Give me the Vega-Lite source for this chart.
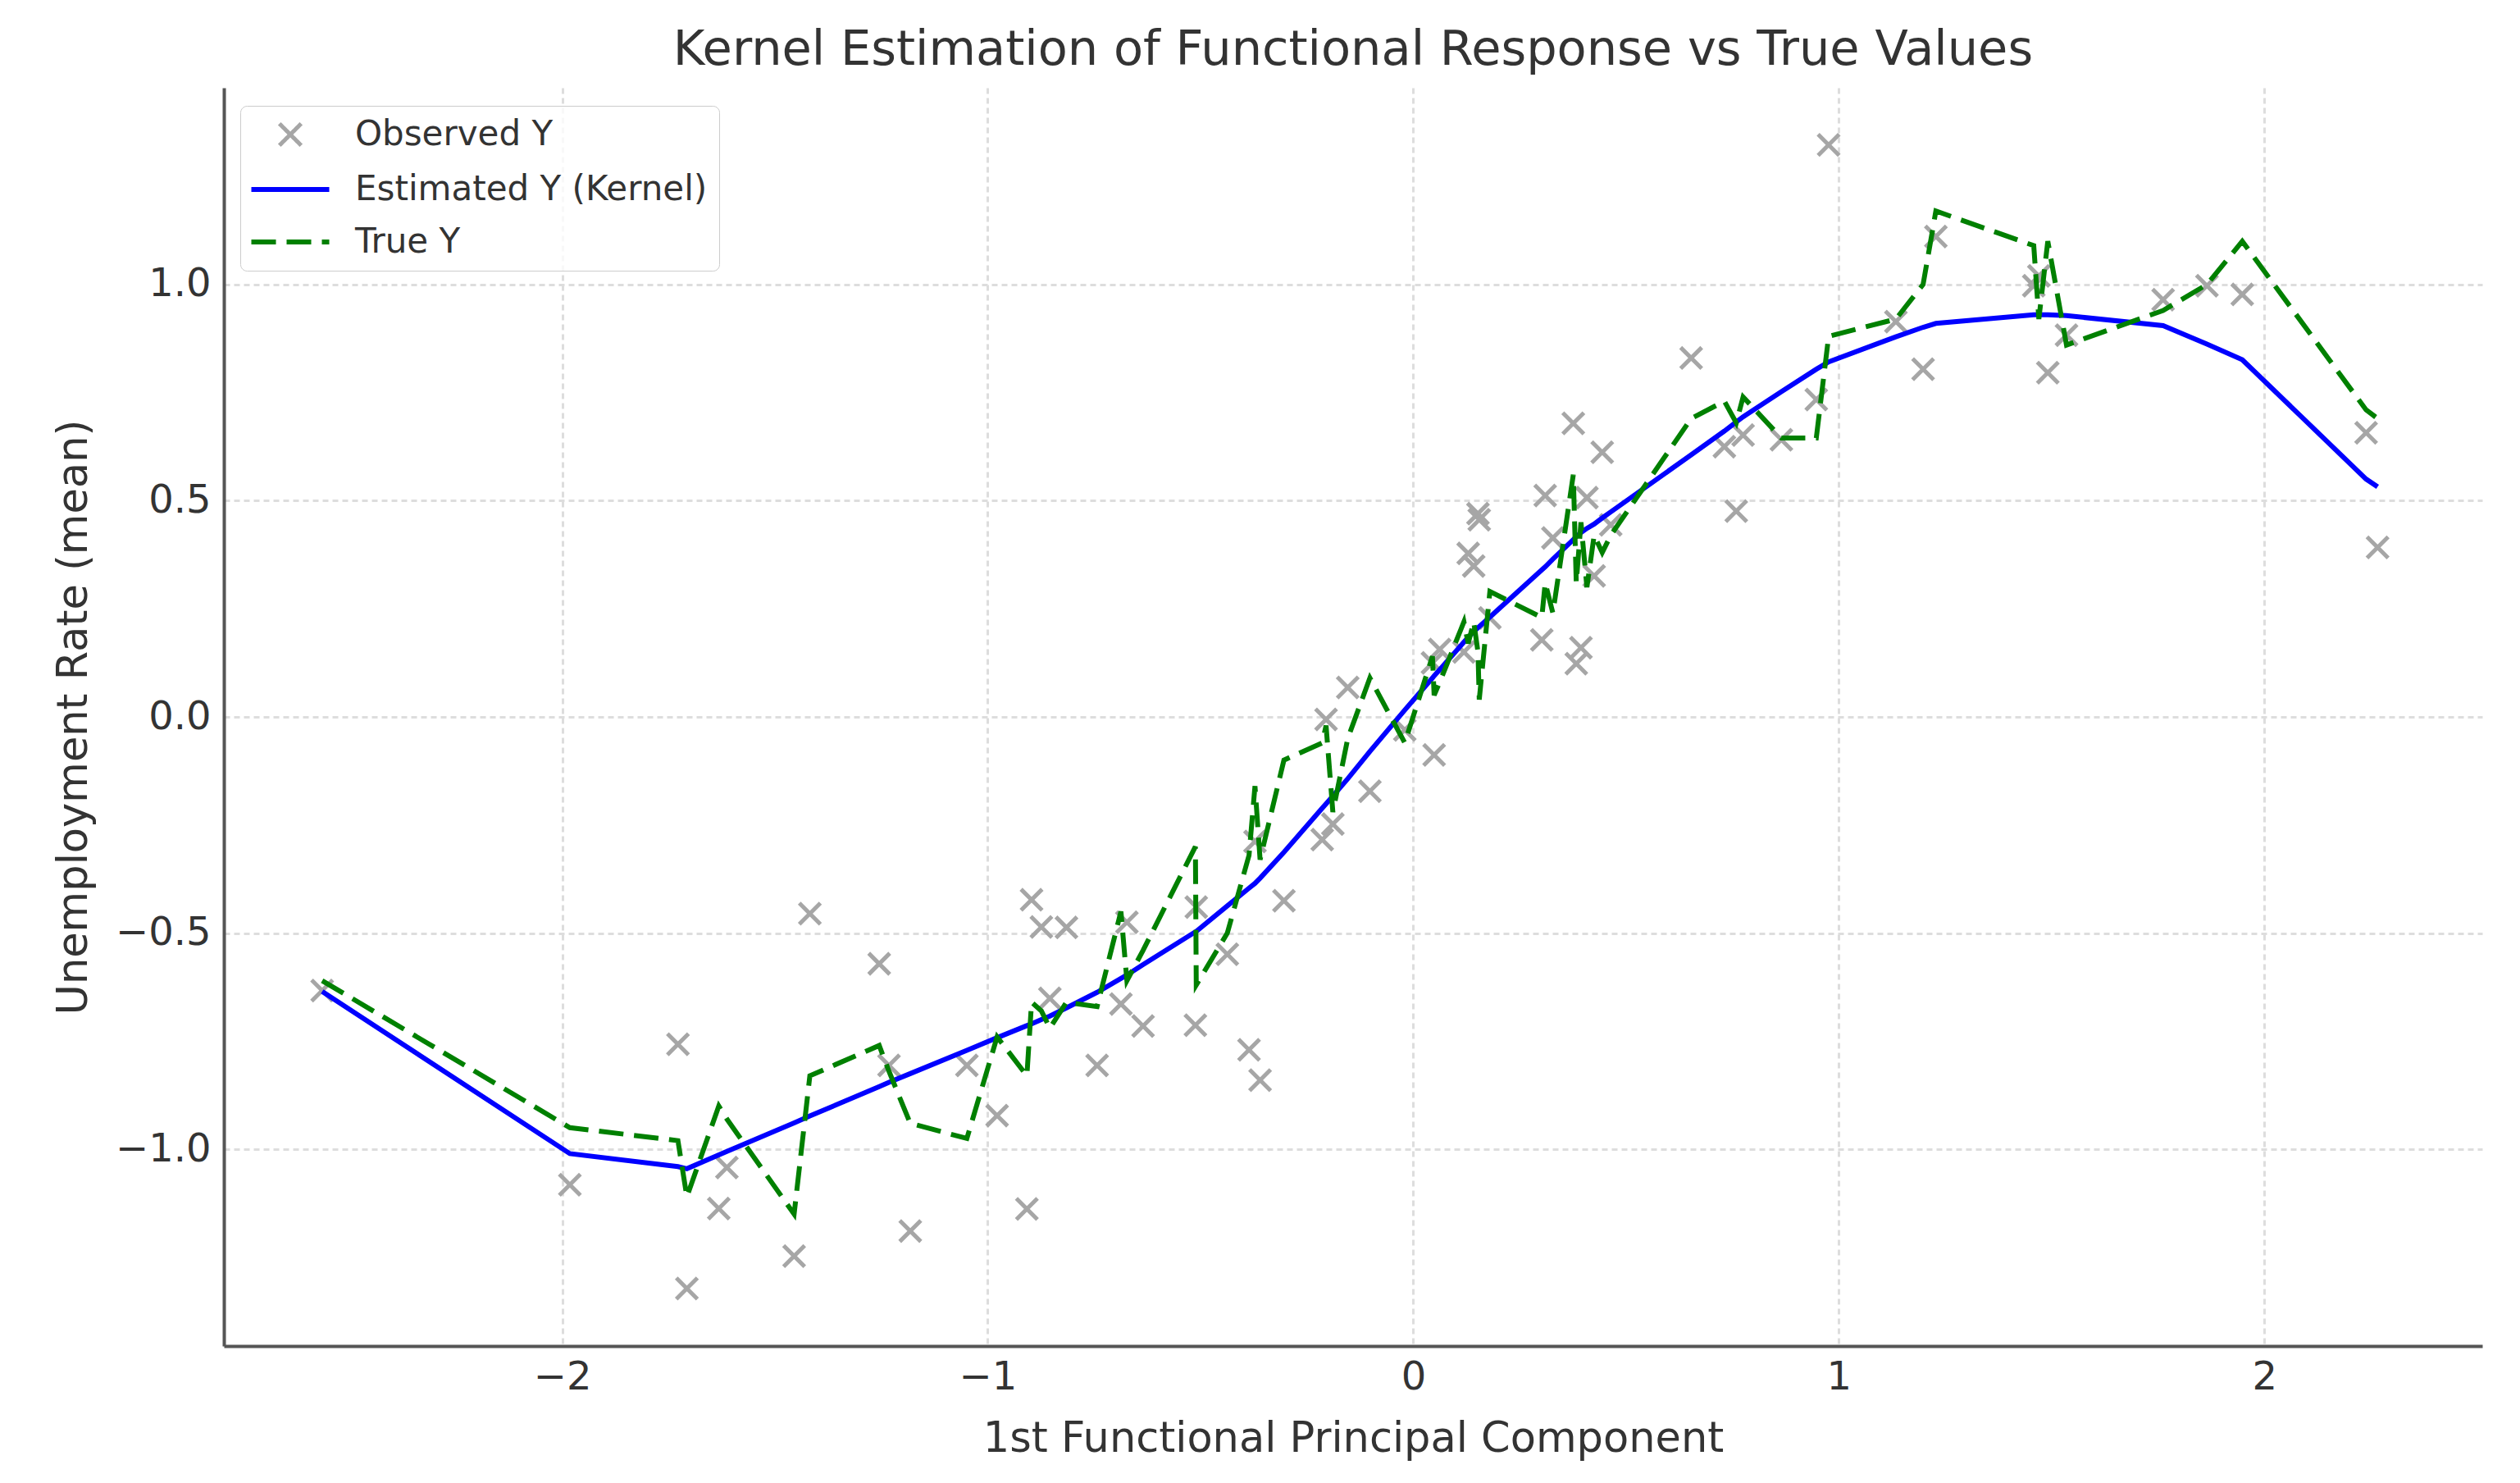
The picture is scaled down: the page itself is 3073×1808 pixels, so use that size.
{
  "$schema": "https://vega.github.io/schema/vega-lite/v6.json",
  "autosize": {"type": "none"},
  "padding": {"left": 273, "top": 107, "right": 46, "bottom": 167},
  "width": 2754,
  "height": 1534,
  "title": {
    "text": "Kernel Estimation of Functional Response vs True Values",
    "fontSize": 59,
    "fontWeight": "normal",
    "color": "#333333",
    "anchor": "middle",
    "offset": 16
  },
  "data": {
    "values": [
      {"x": -2.564, "observed": -0.633, "estimated": -0.635, "true": -0.61},
      {"x": -1.982, "observed": -1.082, "estimated": -1.01, "true": -0.95},
      {"x": -1.728, "observed": -0.757, "estimated": -1.04, "true": -0.98},
      {"x": -1.707, "observed": -1.322, "estimated": -1.045, "true": -1.11},
      {"x": -1.632, "observed": -1.137, "estimated": -1.013, "true": -0.9},
      {"x": -1.613, "observed": -1.042, "estimated": -1.005, "true": -0.93},
      {"x": -1.455, "observed": -1.247, "estimated": -0.939, "true": -1.15},
      {"x": -1.418, "observed": -0.455, "estimated": -0.923, "true": -0.83},
      {"x": -1.255, "observed": -0.571, "estimated": -0.855, "true": -0.76},
      {"x": -1.232, "observed": -0.806, "estimated": -0.845, "true": -0.82},
      {"x": -1.182, "observed": -1.189, "estimated": -0.825, "true": -0.94},
      {"x": -1.049, "observed": -0.806, "estimated": -0.771, "true": -0.975},
      {"x": -0.978, "observed": -0.922, "estimated": -0.742, "true": -0.74},
      {"x": -0.908, "observed": -1.138, "estimated": -0.714, "true": -0.83},
      {"x": -0.897, "observed": -0.423, "estimated": -0.71, "true": -0.66},
      {"x": -0.874, "observed": -0.486, "estimated": -0.7, "true": -0.68},
      {"x": -0.854, "observed": -0.651, "estimated": -0.692, "true": -0.72},
      {"x": -0.815, "observed": -0.487, "estimated": -0.673, "true": -0.66},
      {"x": -0.743, "observed": -0.806, "estimated": -0.637, "true": -0.67},
      {"x": -0.687, "observed": -0.664, "estimated": -0.605, "true": -0.45},
      {"x": -0.673, "observed": -0.475, "estimated": -0.597, "true": -0.61},
      {"x": -0.635, "observed": -0.715, "estimated": -0.573, "true": -0.54},
      {"x": -0.512, "observed": -0.713, "estimated": -0.497, "true": -0.3},
      {"x": -0.51, "observed": -0.44, "estimated": -0.496, "true": -0.62},
      {"x": -0.437, "observed": -0.549, "estimated": -0.437, "true": -0.5},
      {"x": -0.386, "observed": -0.77, "estimated": -0.396, "true": -0.32},
      {"x": -0.372, "observed": -0.288, "estimated": -0.385, "true": -0.16},
      {"x": -0.36, "observed": -0.84, "estimated": -0.373, "true": -0.33},
      {"x": -0.304, "observed": -0.425, "estimated": -0.313, "true": -0.1},
      {"x": -0.214, "observed": -0.284, "estimated": -0.211, "true": -0.06},
      {"x": -0.205, "observed": -0.006, "estimated": -0.201, "true": -0.02},
      {"x": -0.189, "observed": -0.248, "estimated": -0.183, "true": -0.22},
      {"x": -0.154, "observed": 0.068, "estimated": -0.143, "true": -0.05},
      {"x": -0.102, "observed": -0.172, "estimated": -0.08, "true": 0.09},
      {"x": -0.02, "observed": -0.03, "estimated": 0.016, "true": -0.06},
      {"x": 0.045, "observed": 0.125, "estimated": 0.09, "true": 0.14},
      {"x": 0.049, "observed": -0.088, "estimated": 0.095, "true": 0.05},
      {"x": 0.062, "observed": 0.156, "estimated": 0.109, "true": 0.08},
      {"x": 0.119, "observed": 0.15, "estimated": 0.173, "true": 0.22},
      {"x": 0.129, "observed": 0.378, "estimated": 0.184, "true": 0.17},
      {"x": 0.142, "observed": 0.349, "estimated": 0.197, "true": 0.22},
      {"x": 0.152, "observed": 0.47, "estimated": 0.206, "true": 0.15},
      {"x": 0.155, "observed": 0.456, "estimated": 0.209, "true": 0.04},
      {"x": 0.18, "observed": 0.229, "estimated": 0.231, "true": 0.29},
      {"x": 0.302, "observed": 0.178, "estimated": 0.34, "true": 0.23},
      {"x": 0.31, "observed": 0.512, "estimated": 0.347, "true": 0.31},
      {"x": 0.328, "observed": 0.414, "estimated": 0.365, "true": 0.24},
      {"x": 0.376, "observed": 0.679, "estimated": 0.41, "true": 0.56},
      {"x": 0.383, "observed": 0.123, "estimated": 0.417, "true": 0.31},
      {"x": 0.394, "observed": 0.16, "estimated": 0.426, "true": 0.45},
      {"x": 0.408, "observed": 0.507, "estimated": 0.436, "true": 0.3},
      {"x": 0.425, "observed": 0.326, "estimated": 0.446, "true": 0.42},
      {"x": 0.444, "observed": 0.612, "estimated": 0.46, "true": 0.38},
      {"x": 0.464, "observed": 0.444, "estimated": 0.474, "true": 0.42},
      {"x": 0.653, "observed": 0.83, "estimated": 0.606, "true": 0.69},
      {"x": 0.731, "observed": 0.625, "estimated": 0.661, "true": 0.73},
      {"x": 0.759, "observed": 0.476, "estimated": 0.682, "true": 0.68},
      {"x": 0.775, "observed": 0.652, "estimated": 0.694, "true": 0.74},
      {"x": 0.865, "observed": 0.641, "estimated": 0.752, "true": 0.645},
      {"x": 0.947, "observed": 0.734, "estimated": 0.804, "true": 0.645},
      {"x": 0.976, "observed": 1.323, "estimated": 0.821, "true": 0.88},
      {"x": 1.134, "observed": 0.914, "estimated": 0.879, "true": 0.92},
      {"x": 1.198, "observed": 0.804, "estimated": 0.901, "true": 1.0},
      {"x": 1.228, "observed": 1.111, "estimated": 0.91, "true": 1.17},
      {"x": 1.458, "observed": 0.997, "estimated": 0.93, "true": 1.09},
      {"x": 1.47, "observed": 1.02, "estimated": 0.93, "true": 0.92},
      {"x": 1.491, "observed": 0.796, "estimated": 0.93, "true": 1.1},
      {"x": 1.535, "observed": 0.883, "estimated": 0.928, "true": 0.86},
      {"x": 1.762, "observed": 0.965, "estimated": 0.905, "true": 0.94},
      {"x": 1.865, "observed": 0.997, "estimated": 0.862, "true": 1.0},
      {"x": 1.948, "observed": 0.977, "estimated": 0.826, "true": 1.1},
      {"x": 2.239, "observed": 0.657, "estimated": 0.55, "true": 0.71},
      {"x": 2.266, "observed": 0.392, "estimated": 0.532, "true": 0.69}
    ]
  },
  "encoding": {
    "x": {
      "field": "x",
      "type": "quantitative",
      "scale": {"domain": [-2.795, 2.512], "nice": false, "zero": false},
      "axis": {
        "title": "1st Functional Principal Component",
        "values": [-2, -1, 0, 1, 2],
        "format": "d",
        "labelPadding": 14,
        "titlePadding": 26
      }
    }
  },
  "layer": [
    {
      "mark": {
        "type": "point",
        "shape": "M-0.7,-0.7L0.7,0.7M-0.7,0.7L0.7,-0.7",
        "filled": false,
        "size": 1350,
        "strokeWidth": 5,
        "opacity": 1
      },
      "encoding": {
        "y": {
          "field": "observed",
          "type": "quantitative",
          "scale": {"domain": [-1.455, 1.455], "nice": false, "zero": false},
          "axis": {
            "title": "Unemployment Rate (mean)",
            "values": [-1, -0.5, 0, 0.5, 1],
            "format": ".1f",
            "labelPadding": 16,
            "titlePadding": 24
          }
        },
        "color": {
          "datum": "Observed Y",
          "type": "nominal",
          "scale": {
            "domain": ["Observed Y", "Estimated Y (Kernel)", "True Y"],
            "range": ["#a6a6a6", "#0000ff", "#008000"]
          },
          "legend": {
            "title": null,
            "orient": "none",
            "legendX": 20,
            "legendY": 22,
            "padding": 14,
            "symbolOffset": 26,
            "labelOffset": 58,
            "labelLimit": 0,
            "symbolSize": 1444,
            "labelFontSize": 42,
            "labelColor": "#333333",
            "rowPadding": 22,
            "strokeColor": "#cccccc",
            "fillColor": "rgba(255,255,255,0.8)",
            "cornerRadius": 8,
            "symbolFillColor": "transparent",
            "symbolType": {"expr": "datum.value === 'Observed Y' ? 'M-0.7,-0.7L0.7,0.7M-0.7,0.7L0.7,-0.7' : 'M-2.5,0L2.5,0'"},
            "symbolDash": {"expr": "datum.value === 'True Y' ? [30, 13] : [1, 0]"},
            "symbolStrokeWidth": {"expr": "datum.value === 'Observed Y' ? 5 : 6"}
          }
        }
      }
    },
    {
      "mark": {"type": "line", "strokeWidth": 6},
      "encoding": {
        "y": {"field": "estimated", "type": "quantitative"},
        "color": {"datum": "Estimated Y (Kernel)", "type": "nominal"}
      }
    },
    {
      "mark": {"type": "line", "strokeWidth": 6, "strokeDash": [30, 13]},
      "encoding": {
        "y": {"field": "true", "type": "quantitative"},
        "color": {"datum": "True Y", "type": "nominal"}
      }
    }
  ],
  "config": {
    "font": "DejaVu Sans",
    "view": {"stroke": null},
    "axis": {
      "labelFontSize": 48,
      "labelColor": "#333333",
      "titleFontSize": 51,
      "titleFontWeight": "normal",
      "titleColor": "#333333",
      "ticks": false,
      "domainColor": "#555555",
      "domainWidth": 4,
      "grid": true,
      "gridColor": "#dddddd",
      "gridDash": [7, 5],
      "gridWidth": 3
    }
  }
}
